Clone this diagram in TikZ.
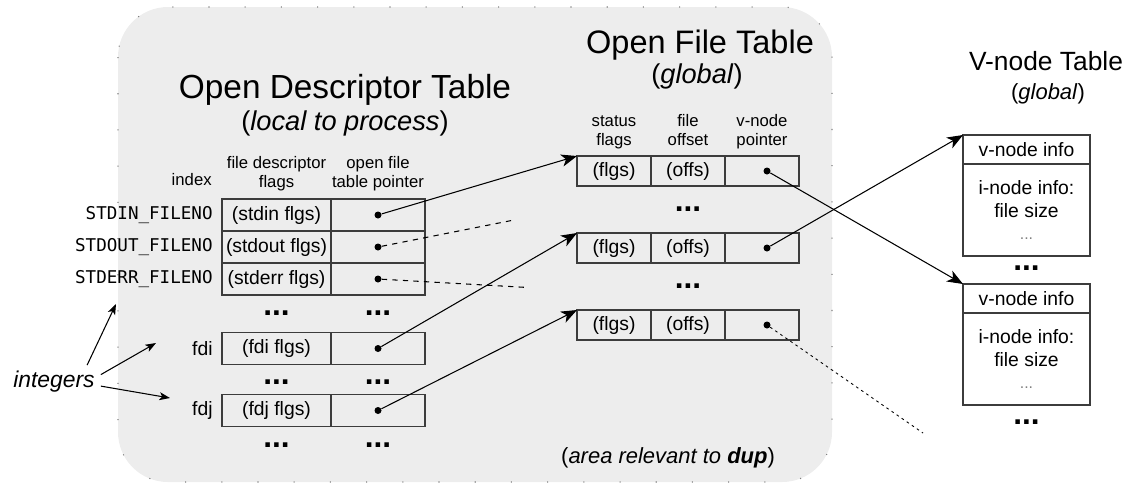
\documentclass[tikz,border=0pt]{standalone}
\usepackage{fontspec}
\setmainfont{Liberation Sans}
\setmonofont{DejaVu Sans Mono}
\usetikzlibrary{arrows.meta, positioning}
\definecolor{areagray}{RGB}{237,237,237}
\definecolor{rulegray}{RGB}{60,60,60}

\begin{document}
\begin{tikzpicture}[x=1cm, y=-1cm, >={Stealth[length=9pt,width=7pt,inset=2.5pt]},
    cell/.style={draw=rulegray, line width=0.7pt, outer sep=0pt, inner sep=0pt, minimum height=0.64cm, font=\fontsize{11}{13}\selectfont},
    fdcell/.style={cell, minimum width=2.18cm},
    ptrcell/.style={cell, minimum width=1.88cm},
    ofcell/.style={cell, minimum width=1.48cm, minimum height=0.6cm},
    vhead/.style={cell, minimum width=2.54cm, minimum height=0.58cm},
    vbody/.style={cell, minimum width=2.54cm, minimum height=1.84cm, align=center},
    head/.style={align=center, inner sep=0pt, font=\fontsize{9.5}{10.5}\selectfont, execute at begin node=\strut, execute at end node=\strut},
    idx/.style={inner sep=0pt, font=\ttfamily\fontsize{10}{11}\selectfont},
    more/.style={inner sep=0pt, font=\fontsize{18}{18}\selectfont\bfseries},
    ptr/.style={circle, fill, inner sep=0pt, minimum size=0.14cm},
    link/.style={->, line width=0.6pt},
    intlink/.style={-{Stealth[length=6pt,width=4.5pt,inset=1.5pt]}, line width=0.6pt},
    loose/.style={line width=0.6pt, dash pattern=on 3pt off 3pt},
    looser/.style={line width=0.5pt, dash pattern=on 1.5pt off 2pt}]

    \useasboundingbox (0,0) rectangle (22.5,9.66);

    % area relevant to dup
    \draw[fill=areagray, draw=gray, line width=0.6pt, dash pattern=on 0.6pt off 20pt, rounded corners=1cm] (2.36,0.14) rectangle (16.64,9.64);

    % titles
    \node[font=\fontsize{19}{22}\selectfont] (odtTitle) at (6.90,1.80) {Open Descriptor Table};
    \node[font=\fontsize{15.5}{18}\selectfont] (odtScope) at (6.90,2.47) {(\textit{local to process})};
    \node[font=\fontsize{18.5}{22}\selectfont] (oftTitle) at (14.00,0.90) {Open File Table};
    \node[font=\fontsize{15.5}{18}\selectfont] (oftScope) at (13.94,1.52) {(\textit{global})};
    \node[font=\fontsize{15}{18}\selectfont] (vtTitle) at (20.92,1.22) {V-node Table};
    \node[font=\fontsize{12.5}{14}\selectfont] (vtScope) at (20.96,1.88) {(\textit{global})};

    % open descriptor table
    \node[fdcell] (stdinFlags) at (5.53,4.30) {(stdin flgs)};
    \node[ptrcell, right=0pt of stdinFlags] (stdinPtr) {};
    \node[fdcell, below=0pt of stdinFlags] (stdoutFlags) {(stdout flgs)};
    \node[ptrcell, right=0pt of stdoutFlags] (stdoutPtr) {};
    \node[fdcell, below=0pt of stdoutFlags] (stderrFlags) {(stderr flgs)};
    \node[ptrcell, right=0pt of stderrFlags] (stderrPtr) {};
    \node[fdcell] (fdiFlags) at (5.53,6.97) {(fdi flgs)};
    \node[ptrcell, right=0pt of fdiFlags] (fdiPtr) {};
    \node[fdcell] (fdjFlags) at (5.53,8.21) {(fdj flgs)};
    \node[ptrcell, right=0pt of fdjFlags] (fdjPtr) {};

    \node[head, above=0.12cm of stdinFlags] (fdHead) {file descriptor\\flags};
    \node[head, above=0.12cm of stdinPtr] (ptrHead) {open file\\table pointer};
    \node[head, anchor=east] (idxHead) at (4.24,3.64) {index};

    \node[idx, left=0.18cm of stdinFlags] (stdinName) {STDIN\_FILENO};
    \node[idx, left=0.18cm of stdoutFlags] (stdoutName) {STDOUT\_FILENO};
    \node[idx, left=0.18cm of stderrFlags] (stderrName) {STDERR\_FILENO};
    \node[left=0.18cm of fdiFlags, inner sep=0pt, font=\fontsize{11}{13}\selectfont] (fdiName) {fdi};
    \node[left=0.18cm of fdjFlags, inner sep=0pt, font=\fontsize{11}{13}\selectfont] (fdjName) {fdj};

    \node[more] (fdMoreA) at (5.53,6.26) {...};
    \node[more] (ptrMoreA) at (7.56,6.26) {...};
    \node[more] (fdMoreB) at (5.53,7.64) {...};
    \node[more] (ptrMoreB) at (7.56,7.64) {...};
    \node[more] (fdMoreC) at (5.53,8.90) {...};
    \node[more] (ptrMoreC) at (7.56,8.90) {...};

    \node[ptr] (stdinDot) at (stdinPtr) {};
    \node[ptr] (stdoutDot) at (stdoutPtr) {};
    \node[ptr] (stderrDot) at (stderrPtr) {};
    \node[ptr] (fdiDot) at (fdiPtr) {};
    \node[ptr] (fdjDot) at (fdjPtr) {};

    % open file table
    \node[ofcell] (flgsA) at (12.28,3.42) {(flgs)};
    \node[ofcell, right=0pt of flgsA] (offsA) {(offs)};
    \node[ofcell, right=0pt of offsA] (vptrA) {};
    \node[ofcell] (flgsB) at (12.28,4.96) {(flgs)};
    \node[ofcell, right=0pt of flgsB] (offsB) {(offs)};
    \node[ofcell, right=0pt of offsB] (vptrB) {};
    \node[ofcell] (flgsC) at (12.28,6.50) {(flgs)};
    \node[ofcell, right=0pt of flgsC] (offsC) {(offs)};
    \node[ofcell, right=0pt of offsC] (vptrC) {};

    \node[head, above=0.1cm of flgsA] (statusHead) {status\\flags};
    \node[head, above=0.1cm of offsA] (offsetHead) {file\\offset};
    \node[head, above=0.1cm of vptrA] (vptrHead) {v-node\\pointer};

    \node[more] (ofMoreA) at (13.76,4.18) {...};
    \node[more] (ofMoreB) at (13.76,5.72) {...};

    \node[ptr] (vptrADot) at ([xshift=0.1cm]vptrA.center) {};
    \node[ptr] (vptrBDot) at ([xshift=0.1cm]vptrB.center) {};
    \node[ptr] (vptrCDot) at ([xshift=0.1cm]vptrC.center) {};

    % v-node table
    \node[vhead] (vinfoA) at (20.53,2.99) {v-node info};
    \node[vbody, below=0pt of vinfoA] (iinfoA) {i-node info:\\file size\\{\fontsize{9}{13}\selectfont\color{gray}...}};
    \node[more] (vMoreA) at (20.53,5.36) {...};
    \node[vhead] (vinfoB) at (20.53,5.97) {v-node info};
    \node[vbody, below=0pt of vinfoB] (iinfoB) {i-node info:\\file size\\{\fontsize{9}{13}\selectfont\color{gray}...}};
    \node[more] (vMoreB) at (20.53,8.44) {...};

    \node[font=\fontsize{12.5}{14}\selectfont] (dupNote) at (13.36,9.16) {(\textit{area relevant to} \textbf{\textit{dup}})};
    \node[font=\fontsize{13}{15}\selectfont\itshape] (ints) at (1.08,7.64) {integers};

    \coordinate (stdoutEnd) at (10.28,4.40);
    \coordinate (stderrEnd) at (10.56,5.75);
    \coordinate (vptrCEnd) at (18.46,8.66);
    \coordinate (intTipA) at (2.32,6.08);
    \coordinate (intTipB) at (3.12,6.86);
    \coordinate (intTipC) at (3.40,7.96);

    \path[link]
    (stdinDot) edge (flgsA.north west)
    (fdiDot) edge (flgsB.north west)
    (fdjDot) edge (flgsC.north west)
    (vptrADot) edge (vinfoB.north west)
    (vptrBDot) edge (vinfoA.north west);

    \path[loose]
    (stdoutDot) edge (stdoutEnd)
    (stderrDot) edge (stderrEnd);
    \path[looser] (vptrCDot) edge (vptrCEnd);

    \path[intlink]
    (ints.27) edge (intTipA)
    (ints.9) edge (intTipB)
    (ints.-5) edge (intTipC);
\end{tikzpicture}
\end{document}
